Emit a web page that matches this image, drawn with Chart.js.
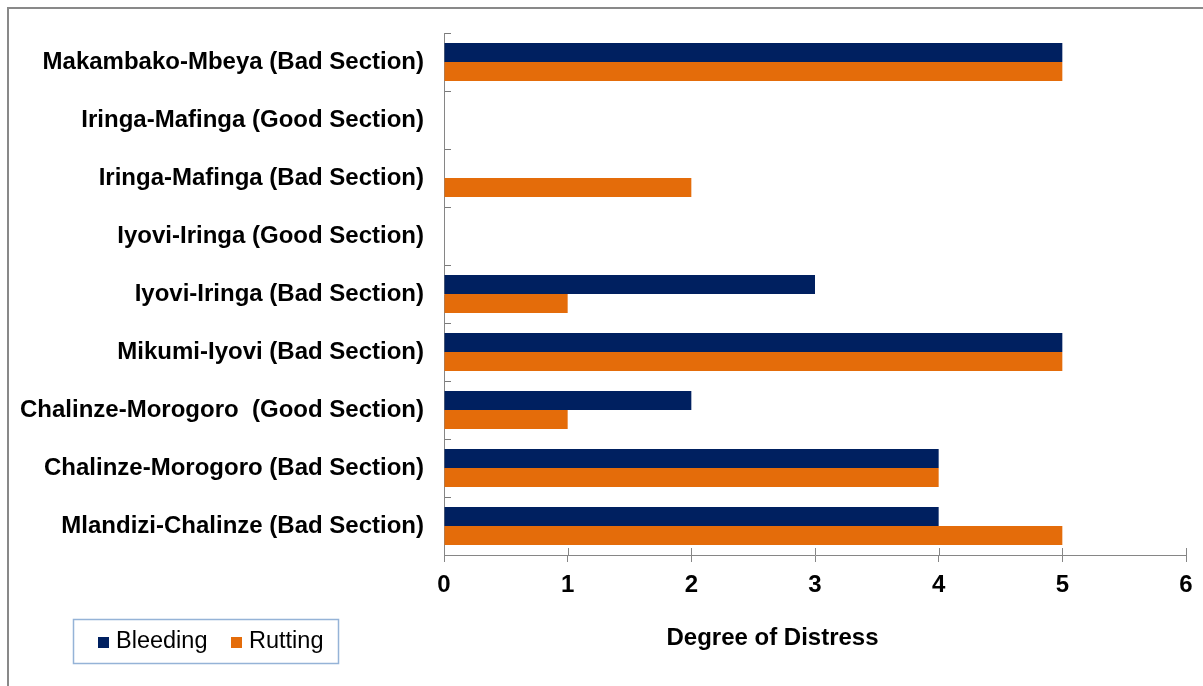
<!DOCTYPE html>
<html>
<head>
<meta charset="utf-8">
<script src="https://cdn.jsdelivr.net/npm/chart.js@4/dist/chart.umd.min.js"></script>
<style>
  html, body { margin: 0; padding: 0; background: #ffffff; }
  #wrap { width: 1203px; height: 686px; position: relative; }
</style>
</head>
<body>
<div id="wrap"><canvas id="chart" width="1203" height="686"></canvas></div>
<script>
// Road sections, listed top to bottom
const sections = [
  'Makambako-Mbeya (Bad Section)',
  'Iringa-Mafinga (Good Section)',
  'Iringa-Mafinga (Bad Section)',
  'Iyovi-Iringa (Good Section)',
  'Iyovi-Iringa (Bad Section)',
  'Mikumi-Iyovi (Bad Section)',
  'Chalinze-Morogoro  (Good Section)',
  'Chalinze-Morogoro (Bad Section)',
  'Mlandizi-Chalinze (Bad Section)'
];

// Degree of distress per section
const bleeding = [5, 0, 0, 0, 3, 5, 2, 4, 4];
const rutting  = [5, 0, 2, 0, 1, 5, 1, 4, 5];

const seriesNames = ['Bleeding', 'Rutting'];
const seriesColors = ['#002060', '#E46C0A'];
const axisTitle = 'Degree of Distress';
const xMin = 0, xMax = 6, xStep = 1;

const FONT = '"Liberation Sans", Arial, sans-serif';
const AXIS_GRAY = '#868686';

// Frame, inner x-axis tick halves, axis title and boxed legend
const decorations = {
  id: 'decorations',
  beforeDraw(chart) {
    const ctx = chart.ctx;
    ctx.save();
    ctx.fillStyle = '#ffffff';
    ctx.fillRect(0, 0, chart.width, chart.height);
    ctx.strokeStyle = '#898989';
    ctx.lineWidth = 2;
    ctx.strokeRect(8, 8, chart.width + 20, chart.height + 20);
    ctx.restore();
  },
  afterDraw(chart) {
    const ctx = chart.ctx;
    const xs = chart.scales.x;
    const area = chart.chartArea;
    ctx.save();
    // upper half of the crossing ticks on the value axis
    ctx.strokeStyle = AXIS_GRAY;
    ctx.lineWidth = 1;
    xs.ticks.forEach((t, i) => {
      const px = Math.round(xs.getPixelForTick(i)) + 0.5;
      ctx.beginPath();
      ctx.moveTo(px, area.bottom - 7);
      ctx.lineTo(px, area.bottom);
      ctx.stroke();
    });

    // axis title
    ctx.fillStyle = '#000000';
    ctx.font = 'bold 24px ' + FONT;
    ctx.textAlign = 'center';
    ctx.textBaseline = 'alphabetic';
    ctx.fillText(axisTitle, 772.5, 645);

    // legend box
    ctx.strokeStyle = '#95B3D7';
    ctx.lineWidth = 1.5;
    ctx.strokeRect(73.5, 619.5, 265, 44);
    ctx.font = '23.5px ' + FONT;
    ctx.textAlign = 'left';
    const itemX = [98, 231];
    chart.data.datasets.forEach((ds, i) => {
      ctx.fillStyle = ds.backgroundColor;
      ctx.fillRect(itemX[i], 637, 11, 11);
      ctx.fillStyle = '#000000';
      ctx.fillText(ds.label, itemX[i] + 18, 648);
    });
    ctx.restore();
  }
};

new Chart(document.getElementById('chart'), {
  type: 'bar',
  data: {
    labels: sections,
    datasets: [
      { label: seriesNames[0], data: bleeding, backgroundColor: seriesColors[0] },
      { label: seriesNames[1], data: rutting,  backgroundColor: seriesColors[1] }
    ]
  },
  options: {
    indexAxis: 'y',
    responsive: false,
    animation: false,
    events: [],
    layout: { padding: { left: 0, top: 33, right: 17, bottom: 0 } },
    datasets: { bar: { categoryPercentage: 0.655, barPercentage: 1.0 } },
    plugins: {
      legend: { display: false },
      title: { display: false },
      tooltip: { enabled: false }
    },
    scales: {
      y: {
        position: 'left',
        afterFit(scale) {
          scale.width = 444;
          scale.paddingTop = 0;
          scale.paddingBottom = 0;
        },
        grid: {
          offset: true,
          drawOnChartArea: false,
          drawTicks: true,
          tickLength: -7,
          color: '#7a7a7a'
        },
        border: { display: true, color: AXIS_GRAY, width: 1 },
        ticks: {
          color: '#000000',
          padding: 27,
          font: { family: FONT, size: 24, weight: 'bold' }
        }
      },
      x: {
        position: 'bottom',
        min: xMin,
        max: xMax,
        afterFit(scale) { scale.height = 131; },
        grid: {
          drawOnChartArea: false,
          drawTicks: true,
          tickLength: 7,
          color: AXIS_GRAY
        },
        border: { display: true, color: AXIS_GRAY, width: 1 },
        ticks: {
          stepSize: xStep,
          color: '#000000',
          padding: 9,
          font: { family: FONT, size: 24, weight: 'bold' }
        }
      }
    }
  },
  plugins: [decorations]
});
</script>
</body>
</html>
